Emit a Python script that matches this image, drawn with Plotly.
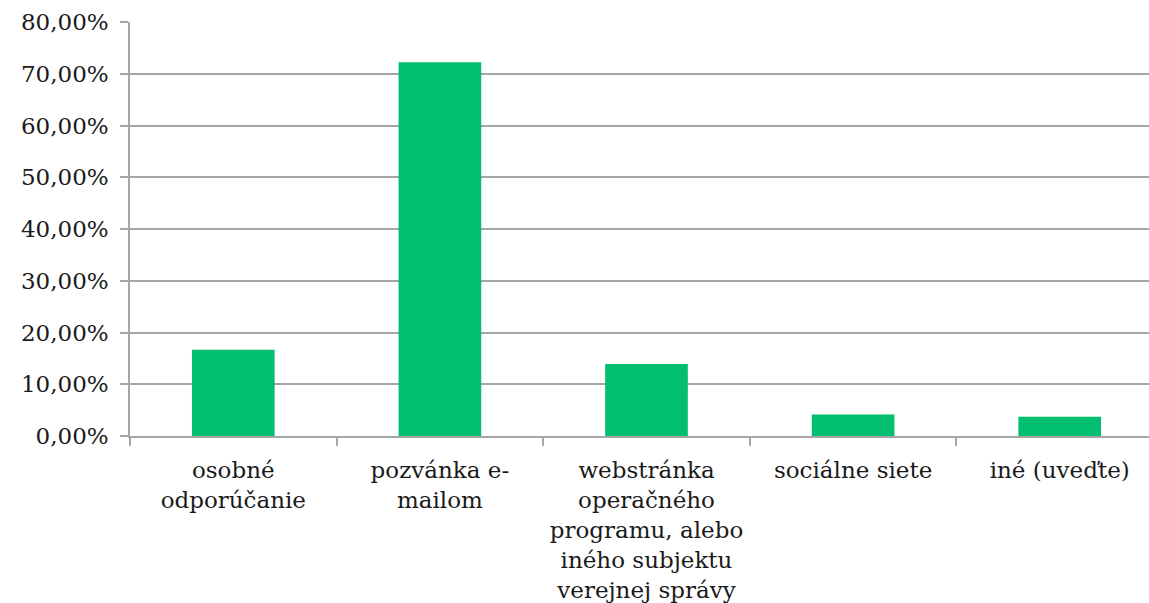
import plotly.graph_objects as go

categories = [
    "osobné<br>odporúčanie",
    "pozvánka e-<br>mailom",
    "webstránka<br>operačného<br>programu, alebo<br>iného subjektu<br>verejnej správy",
    "sociálne siete",
    "iné (uveďte)",
]
values = [16.67, 72.22, 13.89, 4.17, 3.70]
y_ticks = [0, 10, 20, 30, 40, 50, 60, 70, 80]
y_tick_labels = [f"{v:.2f}".replace(".", ",") + "%" for v in y_ticks]

W, H = 1149, 603
left, right, top, bottom = 130, 0, 22, 167
cat_px = 206.6
plot_w = W - left - right
x_max = -0.5 + plot_w / cat_px

font_family = "DejaVu Serif"
grid_col = "#a6a6a6"

fig = go.Figure(
    go.Bar(
        x=list(range(len(categories))),
        y=values,
        width=0.4,
        marker=dict(color="#02BF6F", line=dict(width=0)),
        hoverinfo="skip",
    )
)

fig.update_layout(
    width=W,
    height=H,
    margin=dict(l=left, r=right, t=top, b=bottom, pad=0),
    paper_bgcolor="white",
    plot_bgcolor="white",
    showlegend=False,
    font=dict(family=font_family, size=23, color="#1a1a1a"),
)

fig.update_xaxes(
    tickmode="array",
    tickvals=list(range(len(categories))),
    ticktext=categories,
    range=[-0.5, x_max],
    showgrid=False,
    showline=True,
    linecolor=grid_col,
    linewidth=1.5,
    ticks="",
    zeroline=False,
    tickangle=0,
    ticklabelstandoff=13,
    automargin=False,
    minor=dict(
        tickmode="array",
        tickvals=[i - 0.5 for i in range(len(categories) + 1)],
        ticks="outside",
        ticklen=8,
        tickwidth=1.5,
        tickcolor=grid_col,
        showgrid=False,
    ),
)

fig.update_yaxes(
    range=[0, 80],
    tickmode="array",
    tickvals=y_ticks,
    ticktext=y_tick_labels,
    showgrid=True,
    gridcolor=grid_col,
    gridwidth=1.5,
    showline=True,
    linecolor=grid_col,
    linewidth=1.5,
    ticks="outside",
    ticklen=8,
    tickwidth=1.5,
    tickcolor=grid_col,
    zeroline=False,
    ticklabelstandoff=7,
    automargin=False,
)

fig.write_html(
    "out.html",
    config={"displayModeBar": False},
    post_script="document.body.style.margin='0';document.body.style.overflow='hidden';",
)
